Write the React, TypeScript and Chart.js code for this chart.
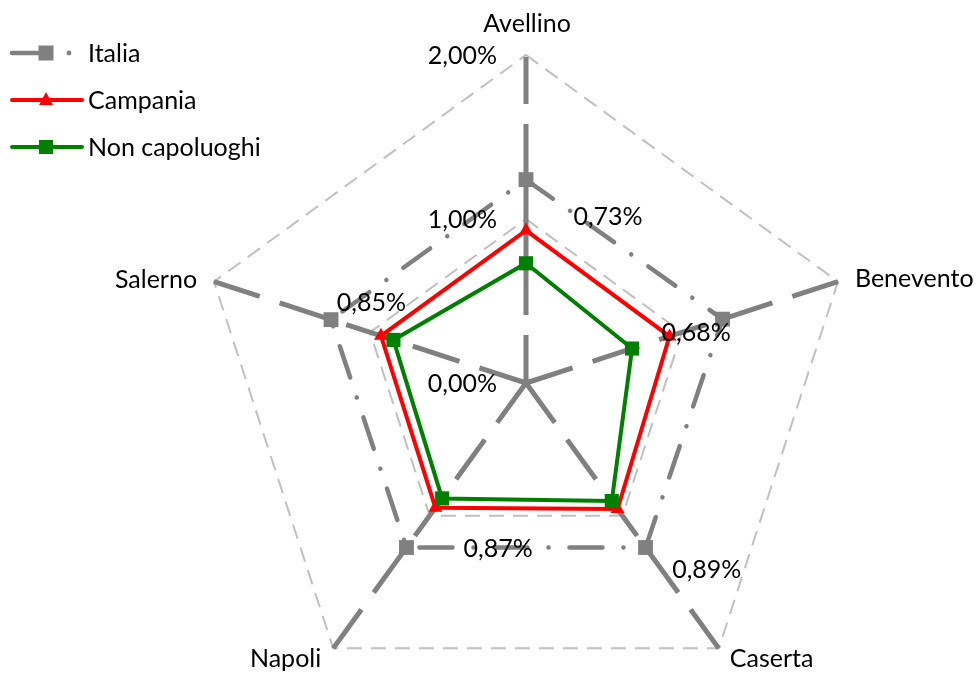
import { useEffect, useRef } from "react";
import { Chart, registerables } from "chart.js";

Chart.register(...registerables);

// Province axes, clockwise from the top
const provinces = ["Avellino", "Benevento", "Caserta", "Napoli", "Salerno"];

// Rates in percent
const italia = [1.24, 1.26, 1.24, 1.24, 1.25];
const campania = [0.93, 0.92, 0.95, 0.94, 0.93];
const nonCapoluoghi = [0.73, 0.68, 0.89, 0.87, 0.85];

// Value axis ticks (percent)
const scaleTicks = [0, 1, 2];

const seriesNames = ["Italia", "Campania", "Non capoluoghi"];

const FONT_FAMILY = "Lato, 'Open Sans', sans-serif";
const FONT = `25px ${FONT_FAMILY}`;
const GREY = "#808080";
const RED = "#ff0000";
const GREEN = "#008000";

const fmtPct = (v: number) => v.toFixed(2).replace(".", ",") + "%";

// Placement of each province name relative to its outer vertex: [dx, dy(baseline), align]
const categoryPlacement: [number, number, CanvasTextAlign][] = [
  [1, -23, "center"],
  [17, 5, "left"],
  [11, 19, "left"],
  [-12, 19, "right"],
  [-17, 6, "right"],
];

// Value label shift for the "Non capoluoghi" points: [dx, dy(baseline)]
const valueLabelShift: [number, number][] = [
  [82, -38],
  [64, -8],
  [95, 77],
  [56, 59],
  [-22, -29],
];

const ITALIA_DASH = [33, 21, 0.01, 21];
const SPOKE_DASH = [49, 21];
// the first spoke doubles as the value axis, whose stroke fills the middle gaps
const VALUE_AXIS_DASH = [48, 20, 191, 20, 47, 1000];

const overlayPlugin = {
  id: "overlay",
  afterDraw(chart: any) {
    const ctx: CanvasRenderingContext2D = chart.ctx;
    const r = chart.scales.r;
    ctx.save();
    ctx.fillStyle = "#000";
    ctx.font = FONT;
    ctx.textBaseline = "alphabetic";

    // province names
    provinces.forEach((name, i) => {
      const p = r.getPointPosition(i, r.drawingArea);
      const [dx, dy, align] = categoryPlacement[i];
      ctx.textAlign = align;
      ctx.fillText(name, p.x + dx, p.y + dy);
    });

    // value axis labels, left of the first spoke
    ctx.textAlign = "right";
    scaleTicks.forEach((v) => {
      const d = r.getDistanceFromCenterForValue(v);
      ctx.fillText(fmtPct(v), r.xCenter - 29, r.yCenter - d + 9);
    });

    // values of the "Non capoluoghi" series
    ctx.textAlign = "center";
    const meta = chart.getDatasetMeta(2);
    meta.data.forEach((pt: any, i: number) => {
      const [dx, dy] = valueLabelShift[i];
      ctx.fillText(fmtPct(nonCapoluoghi[i]), pt.x + dx, pt.y + dy);
    });

    // legend
    const rows = [53, 100, 147];
    const x0 = 12;
    const x1 = 82;
    const mx = 46;
    ctx.lineCap = "round";

    // Italia: dash, square marker, dot
    ctx.strokeStyle = GREY;
    ctx.lineWidth = 4.5;
    ctx.beginPath();
    ctx.moveTo(x0, rows[0]);
    ctx.lineTo(mx, rows[0]);
    ctx.stroke();
    ctx.fillStyle = GREY;
    ctx.fillRect(mx - 7.5, rows[0] - 7.5, 15, 15);
    ctx.beginPath();
    ctx.arc(69, rows[0], 2.4, 0, Math.PI * 2);
    ctx.fill();

    // Campania: line + triangle
    ctx.strokeStyle = RED;
    ctx.lineWidth = 4;
    ctx.beginPath();
    ctx.moveTo(x0, rows[1]);
    ctx.lineTo(x1, rows[1]);
    ctx.stroke();
    ctx.fillStyle = RED;
    ctx.beginPath();
    ctx.moveTo(mx, rows[1] - 8);
    ctx.lineTo(mx + 7, rows[1] + 5);
    ctx.lineTo(mx - 7, rows[1] + 5);
    ctx.closePath();
    ctx.fill();

    // Non capoluoghi: line + square
    ctx.strokeStyle = GREEN;
    ctx.beginPath();
    ctx.moveTo(x0, rows[2]);
    ctx.lineTo(x1, rows[2]);
    ctx.stroke();
    ctx.fillStyle = GREEN;
    ctx.fillRect(mx - 7, rows[2] - 7, 14, 14);

    ctx.fillStyle = "#000";
    ctx.textAlign = "left";
    seriesNames.forEach((name, i) => {
      ctx.fillText(name, 88, rows[i] + 9);
    });

    ctx.restore();
  },
};

export default function App() {
  const canvasRef = useRef<HTMLCanvasElement | null>(null);

  useEffect(() => {
    if (!canvasRef.current) return;
    const chart = new Chart(canvasRef.current, {
      type: "radar",
      data: {
        labels: provinces,
        datasets: [
          {
            label: seriesNames[0],
            data: italia,
            order: 2,
            fill: false,
            borderColor: GREY,
            backgroundColor: GREY,
            borderWidth: 4.5,
            borderDash: ITALIA_DASH,
            borderCapStyle: "round",
            pointStyle: "rect",
            pointRadius: 10.5,
            pointBorderWidth: 0,
            pointBackgroundColor: GREY,
          },
          {
            label: seriesNames[1],
            data: campania,
            order: 1,
            fill: false,
            borderColor: RED,
            backgroundColor: RED,
            borderWidth: 4,
            pointStyle: "triangle",
            pointRadius: 8,
            pointBorderWidth: 0,
            pointBackgroundColor: RED,
          },
          {
            label: seriesNames[2],
            data: nonCapoluoghi,
            order: 0,
            fill: false,
            borderColor: GREEN,
            backgroundColor: GREEN,
            borderWidth: 4,
            pointStyle: "rect",
            pointRadius: 10,
            pointBorderWidth: 0,
            pointBackgroundColor: GREEN,
          },
        ],
      },
      options: {
        animation: false,
        responsive: true,
        maintainAspectRatio: false,
        events: [],
        layout: { padding: { left: 198, right: 125, top: 55, bottom: 0 } },
        plugins: {
          legend: { display: false },
          tooltip: { enabled: false },
        },
        elements: { line: { tension: 0 } },
        scales: {
          r: {
            min: 0,
            max: 2,
            beginAtZero: true,
            ticks: { display: false, stepSize: 1 },
            pointLabels: { display: false },
            grid: { color: "#c0c0c0", lineWidth: 2, circular: false },
            border: { dash: [15, 9] },
            angleLines: {
              color: GREY,
              lineWidth: 5,
              borderDash: (ctx: any) => (ctx.index === 0 ? VALUE_AXIS_DASH : SPOKE_DASH),
            },
            // the pentagon only reaches 81% of the radius downwards, so size the
            // radius from the width and hang it from the top of the area
            afterFit: (scale: any) => {
              scale.drawingArea = Math.floor(scale.width / 2);
              scale.yCenter = Math.floor(scale.top + scale.drawingArea);
            },
          },
        },
      },
      plugins: [overlayPlugin],
    });
    return () => chart.destroy();
  }, []);

  return (
    <div
      style={{
        position: "fixed",
        left: 0,
        top: 0,
        width: 979,
        height: 674,
        background: "#fff",
      }}
    >
      <canvas ref={canvasRef} />
    </div>
  );
}
